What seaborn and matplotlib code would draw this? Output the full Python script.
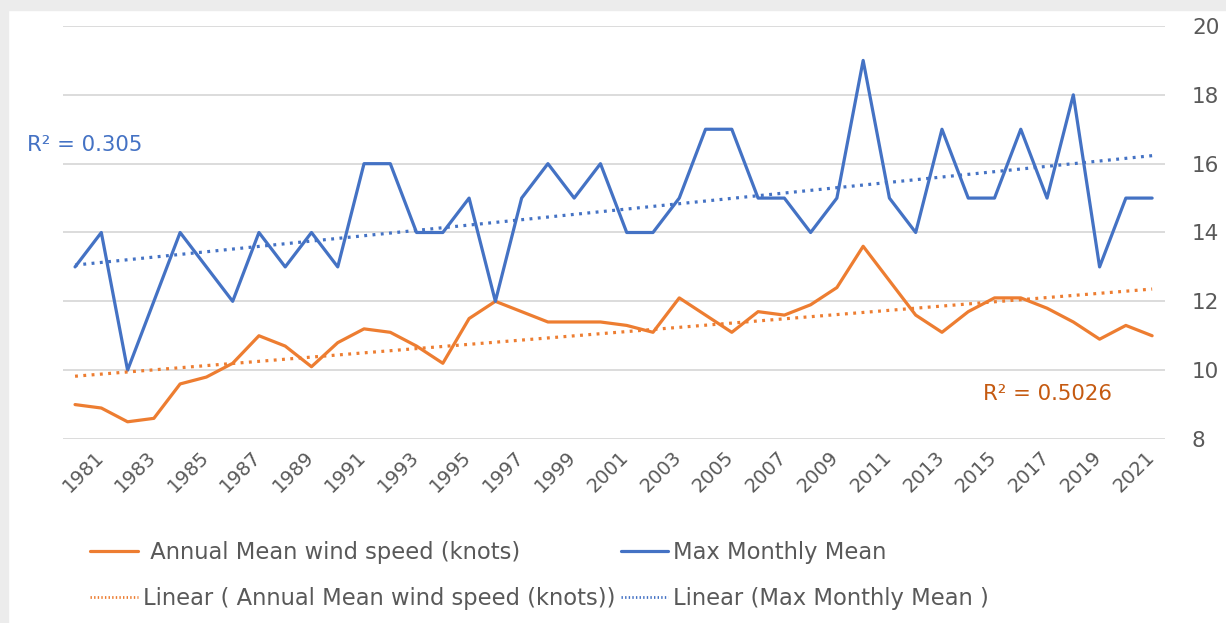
import numpy as np
import pandas as pd
import matplotlib
matplotlib.use("Agg")
import matplotlib.pyplot as plt
import matplotlib.transforms as mtransforms
from matplotlib.lines import Line2D
import seaborn as sns

# ---- data -------------------------------------------------------------
years = list(range(1981, 2023))
annual_mean = [9.0, 8.9, 8.5, 8.6, 9.6, 9.8, 10.2, 11.0, 10.7, 10.1,
               10.8, 11.2, 11.1, 10.7, 10.2, 11.5, 12.0, 11.7, 11.4, 11.4,
               11.4, 11.3, 11.1, 12.1, 11.6, 11.1, 11.7, 11.6, 11.9, 12.4,
               13.6, 12.6, 11.6, 11.1, 11.7, 12.1, 12.1, 11.8, 11.4, 10.9,
               11.3, 11.0]
max_monthly = [13, 14, 10, 12, 14, 13, 12, 14, 13, 14,
               13, 16, 16, 14, 14, 15, 12, 15, 16, 15,
               16, 14, 14, 15, 17, 17, 15, 15, 14, 15,
               19, 15, 14, 17, 15, 15, 17, 15, 18, 13,
               15, 15]
tick_years = [str(y) for y in years[::2]]
y_ticks = [8, 10, 12, 14, 16, 18, 20]
r2_annual = "R\u00b2 = 0.5026"
r2_max = "R\u00b2 = 0.305"

label_annual = " Annual Mean wind speed (knots)"
label_max = "Max Monthly Mean "
label_annual_lin = "Linear ( Annual Mean wind speed (knots))"
label_max_lin = "Linear (Max Monthly Mean )"

ORANGE = "#ed7d31"
BLUE = "#4472c4"
ORANGE_TXT = "#c55a11"
GREY_TXT = "#595959"
GRID = "#d9d9d9"

sns.set_theme(style="white")
plt.rcParams["font.family"] = ["DejaVu Sans"]

df = pd.DataFrame({"idx": np.arange(len(years)),
                   "annual": annual_mean,
                   "max": max_monthly})

W, H = 1226, 623
fig = plt.figure(figsize=(W / 100, H / 100), dpi=100)
fig.patch.set_facecolor("white")
# light frame strips along the top and left edge
fig.patches.append(plt.Rectangle((0, 1 - 10 / H), 1, 10 / H, transform=fig.transFigure,
                                 color="#ececec", zorder=0))
fig.patches.append(plt.Rectangle((0, 0), 8 / W, 1, transform=fig.transFigure,
                                 color="#ececec", zorder=0))

ax = fig.add_axes([62.7 / W, 1 - 439 / H, (1165 - 62.7) / W, (439 - 26) / H])
ax.set_facecolor("none")

lw = 2.3
sns.lineplot(data=df, x="idx", y="annual", ax=ax, color=ORANGE, linewidth=lw, legend=False)
sns.lineplot(data=df, x="idx", y="max", ax=ax, color=BLUE, linewidth=lw, legend=False)

dot = (0, (0.9, 1.7))
sns.regplot(data=df, x="idx", y="annual", ax=ax, scatter=False, ci=None, truncate=True,
            line_kws=dict(color=ORANGE, linewidth=2.3, linestyle=dot))
sns.regplot(data=df, x="idx", y="max", ax=ax, scatter=False, ci=None, truncate=True,
            line_kws=dict(color=BLUE, linewidth=2.3, linestyle=dot))

ax.set_xlim(-0.47, 41.49)
ax.set_ylim(8, 20)
ax.set_yticks(y_ticks)
ax.yaxis.tick_right()
ax.tick_params(axis="y", length=0, pad=19.4, labelsize=15.5, labelcolor=GREY_TXT,
               labelright=True, labelleft=False)
ax.set_xticks(np.arange(0, len(years), 2))
ax.set_xticklabels(tick_years, rotation=45, ha="center", fontsize=14, color=GREY_TXT)
ax.tick_params(axis="x", length=0, pad=6)
offset = mtransforms.ScaledTranslation(8 / 100, 0, fig.dpi_scale_trans)
for lab in ax.get_xticklabels():
    lab.set_transform(lab.get_transform() + offset)

ax.grid(axis="y", color=GRID, lw=1.3)
ax.grid(axis="x", visible=False)
for s in ax.spines.values():
    s.set_visible(False)
ax.set_xlabel("")
ax.set_ylabel("")

# R² annotations for the trend lines
ax.text(2.58, 16.54, r2_max, fontsize=15.3, color=BLUE, ha="right", va="center", clip_on=False)
ax.text(34.56, 9.32, r2_annual, fontsize=15.3, color=ORANGE_TXT, ha="left", va="center")

handles = [Line2D([], [], color=ORANGE, linewidth=lw),
           Line2D([], [], color=ORANGE, linewidth=2.0, linestyle=(0, (0.5, 0.8))),
           Line2D([], [], color=BLUE, linewidth=lw),
           Line2D([], [], color=BLUE, linewidth=2.0, linestyle=(0, (0.5, 0.8)))]
labels = [label_annual, label_annual_lin, label_max, label_max_lin]
leg = fig.legend(handles, labels, ncol=2, loc="upper left",
                 bbox_to_anchor=(90 / W, 1 - 541 / H), frameon=False,
                 fontsize=16.3, handlelength=2.1, handletextpad=0.22,
                 columnspacing=0.25, labelspacing=1.03, borderpad=0, borderaxespad=0)
for t in leg.get_texts():
    t.set_color(GREY_TXT)

fig.savefig("out.png", dpi=100)
